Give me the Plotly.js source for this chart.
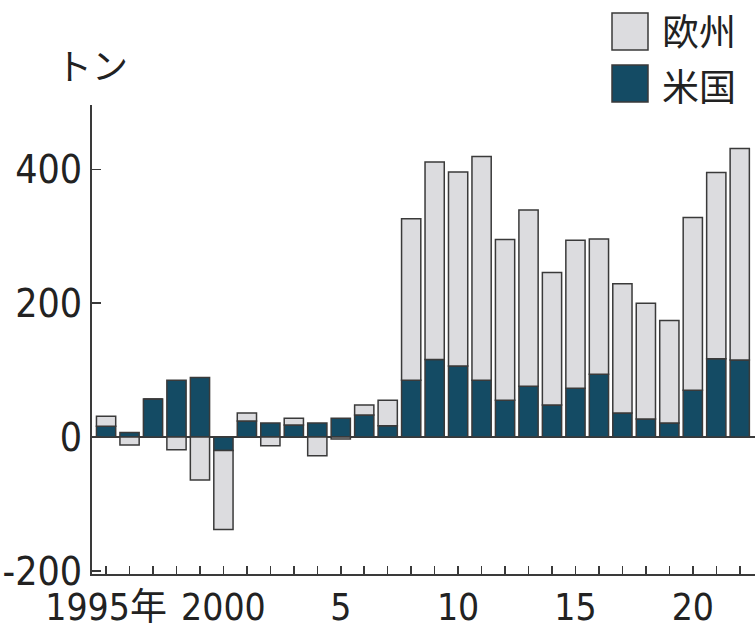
<!DOCTYPE html>
<html>
<head>
<meta charset="utf-8">
<script src="https://cdn.plot.ly/plotly-3.0.1.min.js"></script>
<style>
html,body{margin:0;padding:0;background:#fff;}
#chart{width:755px;height:633px;}
</style>
</head>
<body>
<div id="chart"></div>
<script>
const years = [1995,1996,1997,1998,1999,2000,2001,2002,2003,2004,2005,2006,2007,2008,2009,2010,2011,2012,2013,2014,2015,2016,2017,2018,2019,2020,2021,2022];
const usValues = [16,7,57,85,89,-20,24,21,18,21,28,33,17,85,116,106,85,55,76,48,73,94,36,27,21,70,117,115];
const euValues = [15,-12,0,-19,-64,-118,12,-13,10,-28,-3,15,38,241,295,290,334,240,263,198,221,202,193,173,153,258,278,316];
const xTickLabels = {1995:'1995年',2000:'2000',2005:'5',2010:'10',2015:'15',2020:'20'};
const yTickVals = [-200,0,200,400];
const yTickText = ['-200','0','200','400'];
const seriesNames = ['米国','欧州'];
const unitLabel = 'トン';

const darkColor = '#144b64';
const lightColor = '#dcdcdf';
const edge = '#3a3a3a';
const numFont = '"DejaVu Sans Condensed", "Noto Sans CJK JP", sans-serif';
const cjkFont = '"Noto Sans CJK JP", sans-serif';

const traces = [
  {type:'bar', name:seriesNames[0], x:years, y:usValues, width:0.82,
   marker:{color:darkColor, line:{color:edge, width:1.5}}, showlegend:false},
  {type:'bar', name:seriesNames[1], x:years, y:euValues, width:0.82,
   marker:{color:lightColor, line:{color:edge, width:1.5}}, showlegend:false}
];

const W = 755, H = 633, L = 92, R = 0, T = 105, B = 59;
const pw = W - L - R, ph = H - T - B;
const px = v => (v - L) / pw;
const py = v => (H - B - v) / ph;

const layout = {
  width: W, height: H,
  margin: {l: L, r: R, t: T, b: B, pad: 0},
  paper_bgcolor: '#fff', plot_bgcolor: '#fff',
  barmode: 'relative',
  font: {family: numFont, color: '#222', size: 40},
  xaxis: {
    range: [1994.40, 2022.65],
    tickmode: 'array',
    tickvals: years,
    ticktext: years.map(y => xTickLabels[y] || ''),
    tickangle: 0,
    ticks: 'inside', ticklen: 8, tickwidth: 1.5, tickcolor: edge,
    showline: true, linecolor: edge, linewidth: 2,
    showgrid: false, zeroline: false,
    tickfont: {family: numFont, size: 37, color: '#222'},
    fixedrange: true
  },
  yaxis: {
    range: [-204.5, 496],
    tickmode: 'array', tickvals: yTickVals, ticktext: yTickText,
    ticks: 'inside', ticklen: 9, tickwidth: 1.5, tickcolor: edge,
    showline: true, linecolor: edge, linewidth: 2,
    showgrid: false, zeroline: true, zerolinecolor: edge, zerolinewidth: 1.5,
    tickfont: {family: numFont, size: 39, color: '#222'},
    fixedrange: true
  },
  shapes: [
    {type:'rect', xref:'paper', yref:'paper', x0:px(612), x1:px(648), y0:py(50), y1:py(13),
     fillcolor:lightColor, line:{color:edge, width:1.5}},
    {type:'rect', xref:'paper', yref:'paper', x0:px(612), x1:px(648), y0:py(102), y1:py(65),
     fillcolor:darkColor, line:{color:edge, width:1.5}}
  ],
  annotations: [
    {text: unitLabel, xref:'paper', yref:'paper', x:px(54), y:py(64), xanchor:'left', yanchor:'middle',
     showarrow:false, font:{family:cjkFont, size:36, color:'#222'}},
    {text: seriesNames[1], xref:'paper', yref:'paper', x:px(660), y:py(30), xanchor:'left', yanchor:'middle',
     showarrow:false, font:{family:cjkFont, size:37, color:'#222'}},
    {text: seriesNames[0], xref:'paper', yref:'paper', x:px(660), y:py(85), xanchor:'left', yanchor:'middle',
     showarrow:false, font:{family:cjkFont, size:37, color:'#222'}}
  ]
};

Plotly.newPlot('chart', traces, layout, {staticPlot: true, displayModeBar: false});
</script>
</body>
</html>
